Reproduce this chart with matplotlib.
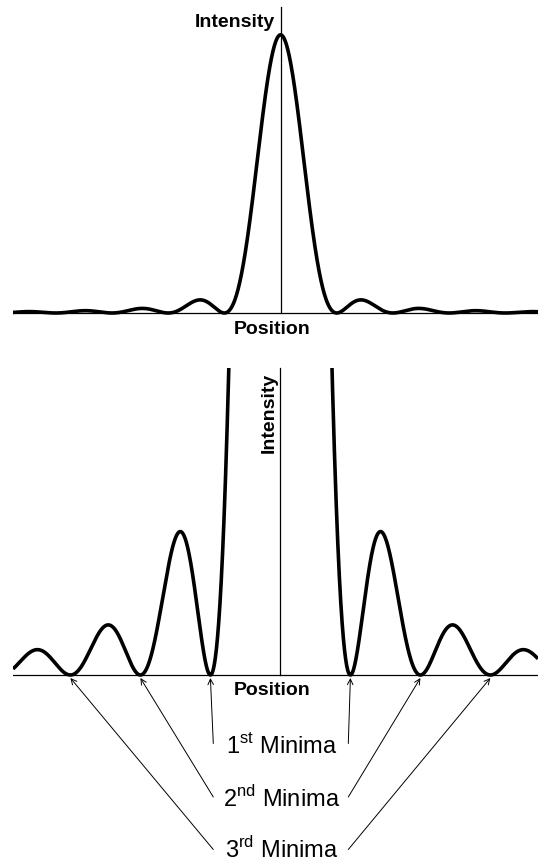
import numpy as np
import matplotlib
matplotlib.use("Agg")
import matplotlib.pyplot as plt

plt.rcParams["font.family"] = ["Liberation Sans", "DejaVu Sans"]
plt.rcParams["mathtext.fontset"] = "custom"
plt.rcParams["mathtext.rm"] = "Liberation Sans"

# single slit diffraction: I = I0 * sinc^2(u), u in units of the first minimum
peak_intensity = 1.0
top_range = (-4.76, 4.58)      # position range of the full view
zoom_range = (-3.82, 3.68)     # position range of the zoomed view
top_ymax = 1.10
zoom_ymax = 0.101
minima_orders = [1, 2, 3]
minima_labels = ["1st", "2nd", "3rd"]

W, H = 538, 863
fig = plt.figure(figsize=(W / 100, H / 100), dpi=100)


def fx(px):
    return px / W


def fy(py):
    return 1 - py / H


def panel(rect_px, xr, ymax, px_per_unit, pad=5):
    left, top, right, bottom = rect_px
    ax = fig.add_axes([fx(left), fy(bottom + pad), (right - left) / W, (bottom + pad - top) / H])
    ax.set_xlim(xr)
    ax.set_ylim(-pad / px_per_unit, ymax)
    ax.axis("off")
    u = np.linspace(xr[0], xr[1], 3000)
    ax.plot(u, peak_intensity * np.sinc(u) ** 2, color="black", lw=2.6, zorder=3,
            solid_capstyle="butt")
    ax.axhline(0, color="black", lw=0.9, zorder=2)
    ax.plot([0, 0], [0, ymax], color="black", lw=0.9, zorder=2, clip_on=False)
    return ax


ax1 = panel((13, 7, 538, 313), top_range, top_ymax, 278)
ax2 = panel((13, 368, 538, 675), zoom_range, zoom_ymax, 3036)

bold = dict(fontsize=14, fontweight="bold")
fig.text(fx(274.5), fy(27), "Intensity", ha="right", va="baseline", **bold)
fig.text(fx(272), fy(334), "Position", ha="center", va="baseline", **bold)
fig.text(fx(278), fy(373), "Intensity", rotation=90, ha="right", va="top", **bold)
fig.text(fx(272), fy(695), "Position", ha="center", va="baseline", **bold)

label_y = [753, 806.5, 858]
arrow_y = [743.5, 797, 849.5]
for order, lab, ly, ay in zip(minima_orders, minima_labels, label_y, arrow_y):
    fig.text(fx(281.5), fy(ly), rf"{lab[0]}$^{{\mathrm{{{lab[1:]}}}}}$ Minima",
             ha="center", va="baseline", fontsize=17)
    for side, x0 in ((-1, 213.3), (1, 348.3)):
        ax2.annotate("", xy=(side * order, -3 / 3036), xycoords="data",
                     xytext=(fx(x0), fy(ay)), textcoords="figure fraction",
                     arrowprops=dict(arrowstyle="->", lw=0.7, color="black",
                                     shrinkA=0, shrinkB=0, mutation_scale=10),
                     annotation_clip=False)

fig.savefig("out.png", dpi=100)
